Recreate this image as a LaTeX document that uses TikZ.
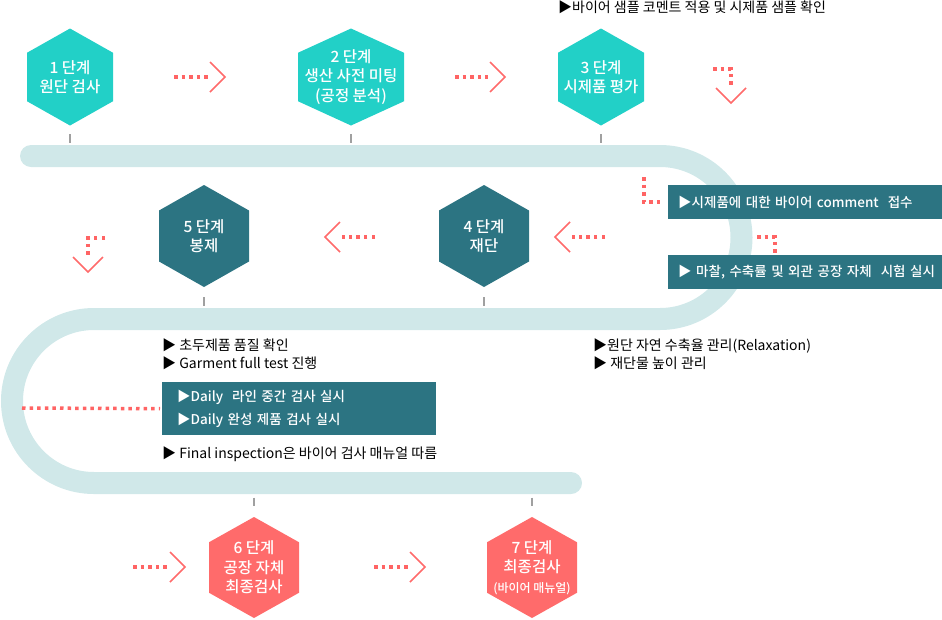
\documentclass[tikz,border=0pt]{standalone}
\usepackage{fontspec}
\setmainfont{Noto Sans CJK KR}
\newfontfamily\medfont{Noto Sans CJK KR Medium}
\usepackage{tikz}
\usetikzlibrary{arrows.meta}
\usetikzlibrary{shapes.geometric,positioning}

\definecolor{trackcol}{HTML}{D0E8E9}
\definecolor{turq}{HTML}{22D0C7}
\definecolor{darkteal}{HTML}{2C7482}
\definecolor{coral}{HTML}{FF6B6B}
\definecolor{dotcol}{HTML}{FF6464}
\definecolor{tickcol}{HTML}{A0A0A0}

\tikzset{chevron/.pic={\draw[coral,line width=1.6pt] (-15,-15) -- (0,0) -- (-15,15);}}

% #1 name, #2 centre, #3 half width, #4 half height, #5 colour, #6 text
\newcommand{\stagehex}[6]{%
	\fill[#5] (#2) ++(0,-#4) -- ++(#3,#4/2) -- ++(0,#4) -- ++(-#3,#4/2) -- ++(-#3,-#4/2) -- ++(0,-#4) -- cycle;
	\node[stagetext] (#1) at (#2) {#6};}

\begin{document}
\begin{tikzpicture}[x=1pt,y=-1pt,
		stagetext/.style={inner sep=0pt,text=white,align=center,font=\medfont\fontsize{15.5}{19.5}\selectfont},
		dotline/.style={dotcol,line width=3.5pt,dash pattern=on 3.5pt off 4.1pt},
		tick/.style={tickcol,line width=2pt},
		note/.style={anchor=west,align=left,inner sep=0pt,font=\fontsize{14}{17.5}\selectfont},
		infobox/.style={fill=darkteal,text=white,align=left,inner xsep=10pt,text width=262pt,minimum height=34pt,font=\medfont\fontsize{13.5}{22.5}\selectfont}]

		\useasboundingbox (0,0) rectangle (942,619);

		% track
		\draw[trackcol,line width=22pt,line cap=round] (31,156) -- (660,156)
			arc[start angle=90,end angle=-90,radius=81.5pt] -- (94,319)
			arc[start angle=90,end angle=270,radius=82pt] -- (571,483);

		% stages
		\stagehex{S1}{70,77}{43}{48.5}{turq}{1 단계\\원단 검사}
		\stagehex{S2}{351,77}{53}{48.5}{turq}{2 단계\\생산 사전 미팅\\(공정 분석)}
		\stagehex{S3}{601,77}{43}{48.5}{turq}{3 단계\\시제품 평가}
		\stagehex{S4}{484,236}{45}{51}{darkteal}{4 단계\\재단}
		\stagehex{S5}{204,236}{45}{51}{darkteal}{5 단계\\봉제}
		\stagehex{S6}{254,567.5}{45}{50.5}{coral}{6 단계\\공장 자체\\최종검사}
		\stagehex{S7}{532,567.5}{45}{50.5}{coral}{7 단계\\최종검사\\{\fontsize{12}{13}\selectfont(바이어 매뉴얼)}}

		% ticks
		\draw[tick] (S1.center) ++(0,57) -- ++(0,9);
		\draw[tick] (S2.center) ++(0,57) -- ++(0,9);
		\draw[tick] (S3.center) ++(0,57) -- ++(0,9);
		\draw[tick] (S4.center) ++(0,61) -- ++(0,9);
		\draw[tick] (S5.center) ++(0,61) -- ++(0,9);
		\draw[tick] (S6.center) ++(0,-70) -- ++(0,8);
		\draw[tick] (S7.center) ++(0,-70) -- ++(0,8);

		% notes and boxes
		\node[note] (T3) at (558,7) {▶바이어 샘플 코멘트 적용 및 시제품 샘플 확인};
		\node[infobox,anchor=north west] (C1) at (668,185) {▶시제품에 대한 바이어 comment\ \ 접수};
		\node[infobox,anchor=north west] (C2) at (668,255) {▶ 마찰, 수축률 및 외관 공장 자체\ \ 시험 실시};
		\node[note] (T4) at (593,354) {▶원단 자연 수축율 관리(Relaxation)\\▶ 재단물 높이 관리};
		\node[note] (T5) at (162,354) {▶ 초두제품 품질 확인\\▶ Garment full test 진행};
		\node[infobox,anchor=north west,inner xsep=15pt,text width=244pt,minimum height=53pt] (M) at (162,382) {▶Daily\ \ 라인 중간 검사 실시\\▶Daily 완성 제품 검사 실시};
		\node[note] (T6) at (162,454) {▶ Final inspection은 바이어 검사 매뉴얼 따름};

		% dotted arrows
		\coordinate (a1) at (174,77);  \coordinate (b1) at (225,77);
		\coordinate (a2) at (455,77);  \coordinate (b2) at (505,77);
		\coordinate (a3) at (713,69);  \coordinate (b3) at (731,103);
		\coordinate (a4) at (605,237); \coordinate (b4) at (555,237);
		\coordinate (a5) at (375,237); \coordinate (b5) at (325,237);
		\coordinate (a6) at (105,238); \coordinate (b6) at (88,272);
		\coordinate (a7) at (133,567); \coordinate (b7) at (185,567);
		\coordinate (a8) at (374,567); \coordinate (b8) at (425,567);
		\coordinate (k1) at (644,177);
		\coordinate (k2) at (757,237);
		\coordinate (k3) at (22,408);

		\begin{scope}[dotline,shorten >=17pt]
			\draw (a1) -- (b1);
			\draw (a2) -- (b2);
			\draw (a3) -| (b3);
			\draw (a4) -- (b4);
			\draw (a5) -- (b5);
			\draw (a6) -| (b6);
			\draw (a7) -- (b7);
			\draw (a8) -- (b8);
		\end{scope}
		\pic at (b1) {chevron};
		\pic at (b2) {chevron};
		\pic[rotate=-90] at (b3) {chevron};
		\pic[rotate=180] at (b4) {chevron};
		\pic[rotate=180] at (b5) {chevron};
		\pic[rotate=-90] at (b6) {chevron};
		\pic at (b7) {chevron};
		\pic at (b8) {chevron};

		\draw[dotline,shorten >=6pt] (k1) |- (C1.west);
		\draw[dotline,shorten >=2pt] (k2) -| ([xshift=107pt]C2.north west);
		\draw[dotline,shorten >=2pt] (k3) -- (M.west);
	\end{tikzpicture}
\end{document}
